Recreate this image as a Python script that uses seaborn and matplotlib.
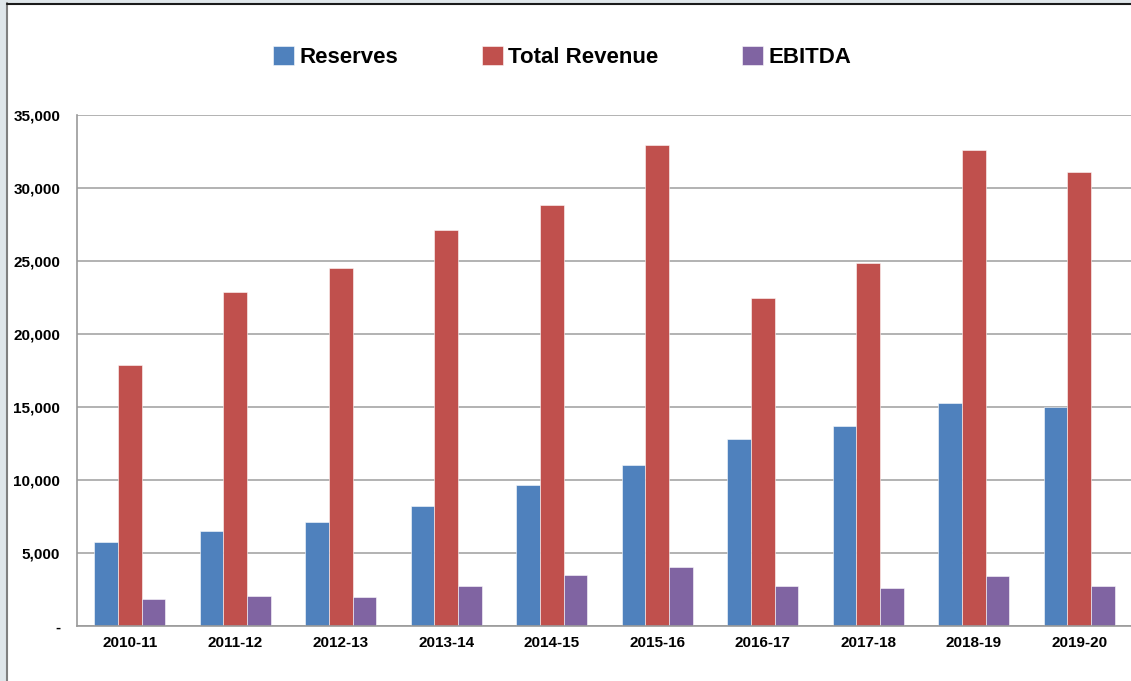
import matplotlib
matplotlib.use("Agg")
import matplotlib.pyplot as plt
import numpy as np
import pandas as pd
import seaborn as sns
from matplotlib.patches import Rectangle
from matplotlib.lines import Line2D
from matplotlib.ticker import FuncFormatter

# data
years = ["2010-11", "2011-12", "2012-13", "2013-14", "2014-15",
         "2015-16", "2016-17", "2017-18", "2018-19", "2019-20"]
reserves = [5750, 6500, 7150, 8200, 9650, 11000, 12800, 13700, 15250, 15000]
total_revenue = [17900, 22900, 24550, 27100, 28850, 32950, 22500, 24850, 32600, 31100]
ebitda = [1870, 2040, 1970, 2720, 3500, 4050, 2740, 2590, 3430, 2740]

series_names = ["Reserves", "Total Revenue", "EBITDA"]
colors = ["#4F81BD", "#C0504D", "#8064A2"]

df = pd.DataFrame({
    "Year": years * 3,
    "Series": np.repeat(series_names, len(years)),
    "Value": reserves + total_revenue + ebitda,
})

sns.set_style("white")
plt.rcParams["font.family"] = ["Liberation Sans", "DejaVu Sans"]
plt.rcParams["font.weight"] = "bold"
plt.rcParams["text.color"] = "black"

fig = plt.figure(figsize=(11.31, 6.81), dpi=100)
ax = fig.add_axes([77 / 1131, 55 / 681, 1055 / 1131, 511 / 681])

sns.barplot(
    data=df, x="Year", y="Value", hue="Series",
    palette=colors, saturation=1, width=0.67, gap=0, ax=ax,
    edgecolor=(1, 1, 1, 0.55), linewidth=0.7,
)

ax.set_xlim(-0.5, len(years) - 0.5)
ax.set_ylim(0, 35000)
ax.set_yticks(np.arange(0, 35001, 5000))
ax.yaxis.set_major_formatter(FuncFormatter(lambda v, p: "-" if v == 0 else f"{v:,.0f}"))
ax.set_xlabel("")
ax.set_ylabel("")

# horizontal gridlines
ax.yaxis.grid(True, color="#a6a6a6", linewidth=1.2)
ax.set_axisbelow(True)

for side in ["top", "right"]:
    ax.spines[side].set_visible(False)
for side in ["left", "bottom"]:
    ax.spines[side].set_color("#9a9a9a")
    ax.spines[side].set_linewidth(1.2)

# category boundary ticks on the x axis
ax.set_xticks(np.arange(len(years)))
ax.set_xticklabels(years)
ax.set_xticks(np.arange(len(years)) + 0.5, minor=True)
ax.tick_params(axis="x", which="major", length=0, pad=7, labelsize=11)
ax.tick_params(axis="x", which="minor", length=3.6, width=1, color="#9a9a9a", direction="out")
ax.tick_params(axis="y", length=3.6, width=1, color="#9a9a9a", direction="out", pad=8.5, labelsize=11)
for lbl in ax.get_xticklabels() + ax.get_yticklabels():
    lbl.set_fontweight("bold")
    lbl.set_color("black")

# legend on top
handles, labels = ax.get_legend_handles_labels()
ax.get_legend().remove()
leg = fig.legend(
    handles, labels, loc="center", bbox_to_anchor=(0.497, 0.916), ncol=3,
    frameon=False, prop={"size": 16, "weight": "bold"},
    handlelength=0.95, handleheight=0.95, handletextpad=0.25, columnspacing=3.75,
)
for t in leg.get_texts():
    t.set_color("black")

# window frame, as in the screenshot
fig.patches.append(Rectangle((0, 0), 6 / 1131, 1, transform=fig.transFigure,
                             facecolor="#dfe6ea", edgecolor="none", zorder=10))
fig.patches.append(Rectangle((0, 1 - 3 / 681), 1, 3 / 681, transform=fig.transFigure,
                             facecolor="#dfe6ea", edgecolor="none", zorder=10))
fig.lines.append(Line2D([6.5 / 1131, 6.5 / 1131], [0, 1 - 3 / 681], transform=fig.transFigure,
                        color="#808080", linewidth=1.5, zorder=11))
fig.lines.append(Line2D([6.5 / 1131, 1], [1 - 4 / 681, 1 - 4 / 681], transform=fig.transFigure,
                        color="#1a1a1a", linewidth=1.5, zorder=11))

fig.savefig("out.png", dpi=100)
